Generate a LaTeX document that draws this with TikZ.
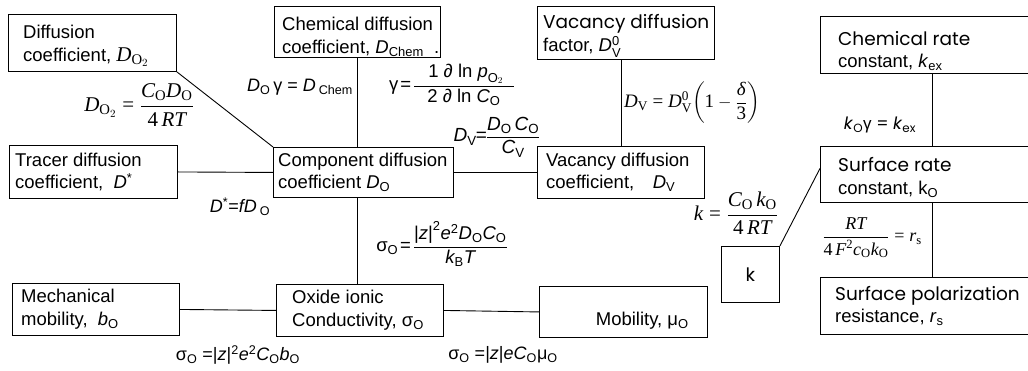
\documentclass[tikz,border=0pt]{standalone}
\usepackage{fontspec}
\usepackage{amsmath}
\setmainfont{Liberation Sans}
\newfontfamily\fAr{Liberation Sans}
\newfontfamily\fTm{Liberation Serif}
\newfontfamily\fGo{Poppins}
\newcommand\mi[1]{\text{\itshape #1}}
\newcommand\mr[1]{\text{\upshape #1}}
\tikzset{
  bxs/.style={draw, line width=0.9pt, inner sep=0pt, anchor=north west},
  bxt/.style={inner sep=0pt, align=left, anchor=west, font=\fAr\fontsize{18.5}{22.5}\selectfont},
  lk/.style={line width=0.9pt},
  fm/.style={inner sep=0pt}
}
\newcommand\mkbox[8]{%
  \pgfmathsetmacro\bw{#4-#2}\pgfmathsetmacro\bh{#5-#3}%
  \node[bxs, minimum width=\bw pt, minimum height=\bh pt] (#1) at (#2,#3) {};
  \node[bxt] (#1-t) at ([xshift=#6pt,yshift=-#7pt]#1.west) {#8};}
\begin{document}
\begin{tikzpicture}[x=1pt,y=-1pt]
\clip (0,0) rectangle (1028,371);
\fill[white] (0,0) rectangle (1028,371);
% boxes
\mkbox{dO}{8}{14}{176}{71}{15}{3}{Diffusion\\coefficient, {\fTm\fontsize{21}{22}\selectfont$\mi{D}_{\mr{O}_2}$}}
\mkbox{chem}{274}{6}{440}{57}{8}{5}{Chemical diffusion\\coefficient, \textit{D}\textsubscript{Chem}\ \ .}
\mkbox{vf}{537}{6}{714}{59}{6}{3}{\fGo Vacancy diffusion\\factor, \textit{D}$^{\mr{0}}_{\mr{V}}$}
\mkbox{tr}{9}{145}{177}{198}{6}{0}{Tracer diffusion\\coefficient,\ \ \textit{D}\textsuperscript{*}}
\mkbox{comp}{273}{147}{453}{197}{5}{0}{Component diffusion\\coefficient \textit{D}\textsubscript{O}}
\mkbox{vc}{537}{146}{704}{198}{9}{0}{Vacancy diffusion\\coefficient,\quad\textit{D}\textsubscript{V}}
\mkbox{mech}{12}{283}{179}{335}{9}{0}{Mechanical\\mobility,\ \ \textit{b}\textsubscript{O}}
\mkbox{ox}{276}{284}{443}{336}{16}{0}{Oxide ionic\\Conductivity, σ\textsubscript{O}}
\node[bxs, minimum width=168pt, minimum height=51pt] (mob) at (539,286) {};
\node[bxt, anchor=base east] (mob-t) at ([xshift=-19pt,yshift=12pt]mob.south east) {Mobility, μ\textsubscript{O}};
\mkbox{cr}{820}{16}{1044}{73}{18}{6}{\fGo Chemical rate\\constant, \textit{k}\textsubscript{ex}}
\mkbox{sr}{820}{146}{1044}{202}{18}{3}{\fGo Surface rate\\constant, k\textsubscript{O}}
\mkbox{sp}{820}{277}{1044}{334}{15}{0}{\fGo Surface polarization\\resistance, \textit{r}\textsubscript{s}}
\node[bxs, minimum width=58pt, minimum height=56pt] (kb) at (721,246) {};
\node[bxt, anchor=center] (kb-t) at (kb.center) {\fGo k};
% connectors
\draw[lk] (dO.south east) -- (comp.north west);
\draw[lk] (chem.south -| 357,0) -- (comp.north -| 357,0);
\draw[lk] (vf.south -| 621,0) -- (vc.north -| 621,0);
\draw[lk] (tr.east) -- (comp.west);
\draw[lk] (comp.east) -- (vc.west);
\draw[lk] (comp.south -| 357,0) -- (ox.north -| 357,0);
\draw[lk] (mech.east) -- (ox.west);
\draw[lk] (ox.east) -- (mob.west);
\draw[lk] (cr.south) -- (sr.north);
\draw[lk] (sr.south) -- (sp.north);
\draw[lk] (kb.north east) -- ([yshift=6pt]sr.west);
% formulas
\node[fm] (f1) at (139,105) {\fTm\fontsize{21}{24}\selectfont $\mi{D}_{\mr{O}_2}\mathrel{\mr{=}}\dfrac{\mi{C}_{\mr{O}}\mi{D}_{\mr{O}}}{\mr{4}\,\mi{RT}}$};
\node[fm] (f2) at (300,87) {\fAr\fontsize{18}{20}\selectfont\textit{D}\textsubscript{O}\,γ = \textit{D}\,\textsubscript{Chem}};
\node[fm] (f3) at (452,85) {\fAr\fontsize{18.5}{20}\selectfont $\mr{γ}\!\mathrel{\mr{=}}\!\dfrac{\hspace*{14pt}\mr{1 ∂ ln }\mi{p}_{\mr{O}_2}\hspace*{10pt}}{\mr{2 ∂ ln }\mi{C}_{\mr{O}}}$};
\node[fm] (f4) at (497,137) {\fAr\fontsize{19}{20}\selectfont $\mi{D}_{\mr{V}}\!\!\mathrel{\mr{=}}\!\!\dfrac{\mi{D}_{\mr{O}}\,\mi{C}_{\mr{O}}}{\mi{C}_{\mr{V}}}$};
\node[fm] (f5) at (692,103) {\fTm\fontsize{19}{22}\selectfont $\mi{D}_{\mr{V}}\mathrel{\mr{=}}\mi{D}^{\mr{0}}_{\mr{V}}\!\left(\mr{1}-\dfrac{\mi{δ}}{\mr{3}}\right)$};
\node[fm] (f6) at (880,125) {\fGo\fontsize{17}{18}\selectfont \textit{k}\textsubscript{O}{\fAr γ} = \textit{k}\textsubscript{ex}};
\node[fm] (f7) at (872,238) {\fTm\fontsize{18}{20}\selectfont $\dfrac{\mi{RT}}{\mr{4}\,\mi{F}^{\mr{2}}\mi{c}_{\mr{O}}\mi{k}_{\mr{O}}}\mathrel{\mr{=}}\mi{r}_{\mr{s}}$};
\node[fm] (f8) at (736,213) {\fTm\fontsize{21}{24}\selectfont $\mi{k}\mathrel{\mr{=}}\dfrac{\mi{C}_{\mr{O}}\,\mi{k}_{\mr{O}}}{\mr{4}\,\mi{RT}}$};
\node[fm] (f9) at (240,207) {\fAr\fontsize{18}{20}\selectfont\textit{D}\textsuperscript{*}=\textit{fD}\,\textsubscript{O}};
\node[fm] (f10) at (442,244) {\fAr\fontsize{18.5}{20}\selectfont $\mr{σ}_{\mr{O}}\!\mathrel{\mr{=}}\!\dfrac{\mr{|}\mi{z}\mr{|}^{\mr{2}}\mi{e}^{\mr{2}}\mi{D}_{\mr{O}}\mi{C}_{\mr{O}}}{\mi{k}_{\mr{B}}\mi{T}}$};
\node[fm] (f11) at (238,355) {\fAr\fontsize{18}{20}\selectfont σ\textsubscript{O} =|\textit{z}|\textsuperscript{2}\textit{e}\textsuperscript{2}\textit{C}\textsubscript{O}\textit{b}\textsubscript{O}};
\node[fm] (f12) at (503,355) {\fAr\fontsize{18}{20}\selectfont σ\textsubscript{O} =|\textit{z}|\textit{eC}\textsubscript{O}μ\textsubscript{O}};
\end{tikzpicture}
\end{document}
